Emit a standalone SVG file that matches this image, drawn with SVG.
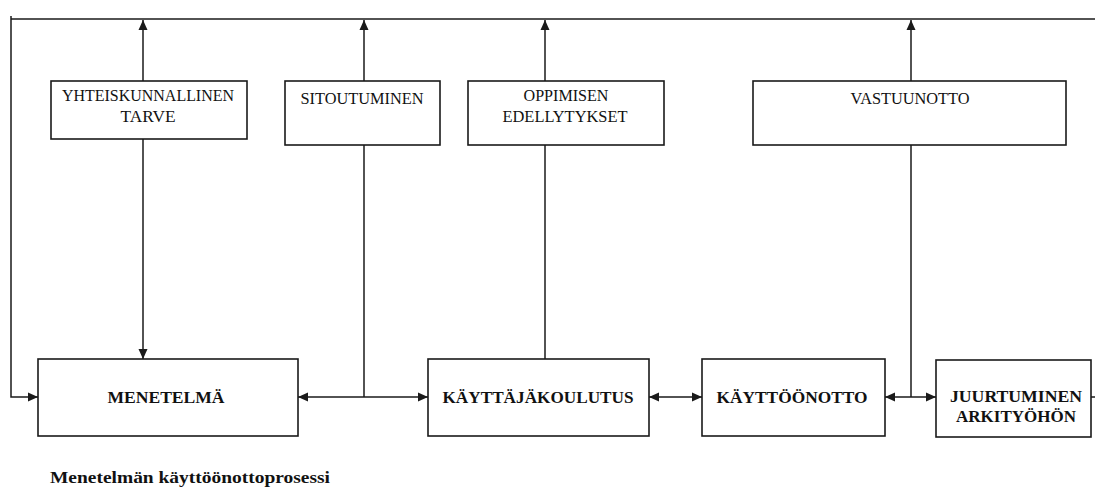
<svg xmlns="http://www.w3.org/2000/svg" width="1095" height="487" viewBox="0 0 1095 487">
  <defs>
    <style>
      .box { fill: #ffffff; stroke: #1a1a1a; stroke-width: 1.6; }
      .wire { fill: none; stroke: #1a1a1a; stroke-width: 1.5; }
      .lbl { font-family: "Liberation Serif", "DejaVu Serif", serif; font-size: 16px; fill: #111; text-anchor: middle; }
      .big { font-family: "Liberation Serif", "DejaVu Serif", serif; font-size: 17px; font-weight: bold; fill: #111; text-anchor: middle; }
      .cap { font-family: "Liberation Serif", "DejaVu Serif", serif; font-size: 17px; font-weight: bold; fill: #111; }
    </style>
    <marker id="arr" viewBox="0 0 10 10" refX="10" refY="5" markerWidth="10" markerHeight="10" markerUnits="userSpaceOnUse" orient="auto-start-reverse">
      <path d="M0,0.5 L10,5 L0,9.5 z" fill="#1a1a1a"/>
    </marker>
  </defs>

  <g id="connectors">
    <path class="wire" d="M11,19 H1095"/>
    <path class="wire" d="M11,16 V397 H38" marker-end="url(#arr)"/>
    <path class="wire" d="M143,81 V20" marker-end="url(#arr)"/>
    <path class="wire" d="M143,139 V359" marker-end="url(#arr)"/>
    <path class="wire" d="M364,81 V20" marker-end="url(#arr)"/>
    <path class="wire" d="M364,397 V145"/>
    <path class="wire" d="M545,81 V20" marker-end="url(#arr)"/>
    <path class="wire" d="M545,359 V145"/>
    <path class="wire" d="M911,81 V20" marker-end="url(#arr)"/>
    <path class="wire" d="M911,397 V145"/>
    <path class="wire" d="M298,397 H428" marker-start="url(#arr)" marker-end="url(#arr)"/>
    <path class="wire" d="M649,397 H702" marker-start="url(#arr)" marker-end="url(#arr)"/>
    <path class="wire" d="M885,397 H936" marker-start="url(#arr)" marker-end="url(#arr)"/>
    <path class="wire" d="M1091,397 H1095"/>
  </g>

  <g id="yhteiskunnallinen-tarve">
    <rect class="box" x="51" y="81" width="196" height="58"/>
    <text class="lbl" x="148" y="101" textLength="172" lengthAdjust="spacingAndGlyphs">YHTEISKUNNALLINEN</text>
    <text class="lbl" x="148" y="122" textLength="55" lengthAdjust="spacingAndGlyphs">TARVE</text>
  </g>

  <g id="sitoutuminen">
    <rect class="box" x="285" y="81" width="155" height="64"/>
    <text class="lbl" x="362" y="104" textLength="123" lengthAdjust="spacingAndGlyphs">SITOUTUMINEN</text>
  </g>

  <g id="oppimisen-edellytykset">
    <rect class="box" x="468" y="81" width="196" height="64"/>
    <text class="lbl" x="566" y="101" textLength="85" lengthAdjust="spacingAndGlyphs">OPPIMISEN</text>
    <text class="lbl" x="565" y="122" textLength="125" lengthAdjust="spacingAndGlyphs">EDELLYTYKSET</text>
  </g>

  <g id="vastuunotto">
    <rect class="box" x="753" y="81" width="313" height="64"/>
    <text class="lbl" x="910" y="104" textLength="119" lengthAdjust="spacingAndGlyphs">VASTUUNOTTO</text>
  </g>

  <g id="menetelma">
    <rect class="box" x="38" y="359" width="260" height="77"/>
    <text class="big" x="166" y="403" textLength="117" lengthAdjust="spacingAndGlyphs">MENETELMÄ</text>
  </g>

  <g id="kayttajakoulutus">
    <rect class="box" x="428" y="359" width="221" height="77"/>
    <text class="big" x="538" y="403" textLength="191" lengthAdjust="spacingAndGlyphs">KÄYTTÄJÄKOULUTUS</text>
  </g>

  <g id="kayttoonotto">
    <rect class="box" x="702" y="359" width="183" height="77"/>
    <text class="big" x="792" y="403" textLength="151" lengthAdjust="spacingAndGlyphs">KÄYTTÖÖNOTTO</text>
  </g>

  <g id="juurtuminen-arkityohon">
    <rect class="box" x="936" y="360" width="155" height="77"/>
    <text class="big" x="1016" y="402" textLength="132" lengthAdjust="spacingAndGlyphs">JUURTUMINEN</text>
    <text class="big" x="1016" y="422" textLength="120" lengthAdjust="spacingAndGlyphs">ARKITYÖHÖN</text>
  </g>

  <text class="cap" x="50" y="483" textLength="280" lengthAdjust="spacingAndGlyphs">Menetelmän käyttöönottoprosessi</text>
</svg>
